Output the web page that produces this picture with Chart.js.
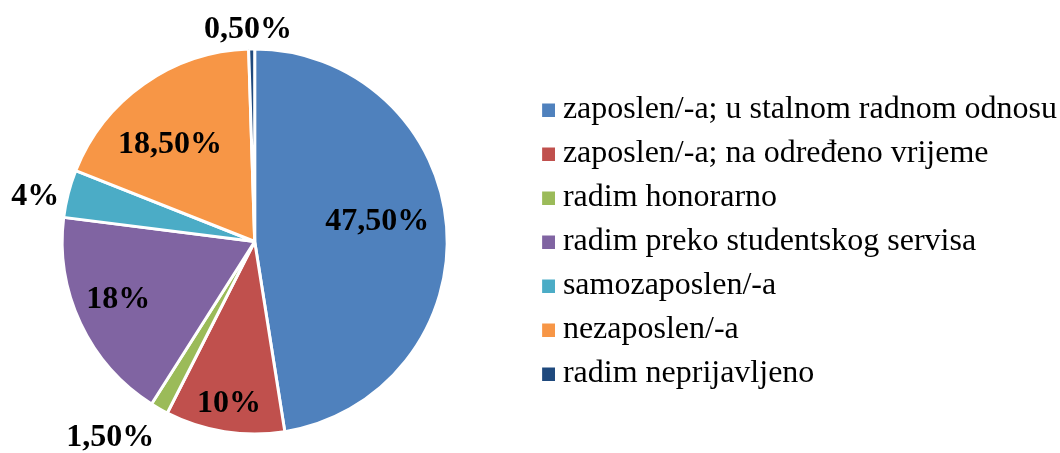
<!DOCTYPE html>
<html>
<head>
<meta charset="utf-8">
<script src="https://cdn.jsdelivr.net/npm/chart.js@4"></script>
<style>
html,body{margin:0;padding:0;background:#fff;}
#wrap{width:1060px;height:453px;}
</style>
</head>
<body>
<div id="wrap"><canvas id="c" width="1060" height="453"></canvas></div>
<script>
const categories = [
  "zaposlen/-a; u stalnom radnom odnosu",
  "zaposlen/-a; na određeno vrijeme",
  "radim honorarno",
  "radim preko studentskog servisa",
  "samozaposlen/-a",
  "nezaposlen/-a",
  "radim neprijavljeno"
];
const values = [47.5, 10, 1.5, 18, 4, 18.5, 0.5];
const valueLabels = ["47,50%", "10%", "1,50%", "18%", "4%", "18,50%", "0,50%"];
const colors = ["#4F81BD", "#C0504D", "#9BBB59", "#8064A2", "#4BACC6", "#F79646", "#1F497D"];
// label placement: radius factor and angle offset in degrees
const labelRadius = [0.644, 0.852, 1.268, 0.771, 1.163, 0.667, 1.099];
const labelAngleShift = [-4.5, 0, 6.6, 2, -2.9, -6.1, -0.9];

const serif = "'Times New Roman', 'Liberation Serif', serif";

// legend marker: small square drawn on the right side of a wider transparent image
function makeMarker(color) {
  const c = document.createElement('canvas');
  c.width = 42; c.height = 14;
  const g = c.getContext('2d');
  g.fillStyle = color;
  g.fillRect(29, 1, 13, 13);
  return c;
}

const labelPlugin = {
  id: 'valueLabels',
  afterDatasetsDraw(chart) {
    const ctx = chart.ctx;
    const meta = chart.getDatasetMeta(0);
    ctx.save();
    ctx.font = "bold 32px " + serif;
    ctx.fillStyle = "#000";
    ctx.textAlign = "center";
    ctx.textBaseline = "middle";
    meta.data.forEach((arc, i) => {
      const p = arc.getProps(['x','y','startAngle','endAngle','outerRadius']);
      const mid = (p.startAngle + p.endAngle) / 2 + labelAngleShift[i] * Math.PI / 180;
      const r = p.outerRadius * labelRadius[i];
      ctx.fillText(valueLabels[i], p.x + Math.cos(mid) * r, p.y + Math.sin(mid) * r);
    });
    ctx.restore();
  }
};

new Chart(document.getElementById('c'), {
  type: 'pie',
  data: {
    labels: categories,
    datasets: [{
      data: values,
      backgroundColor: colors,
      borderColor: "#ffffff",
      borderWidth: 3,
      hoverOffset: 0
    }]
  },
  options: {
    responsive: false,
    animation: false,
    radius: 192.5,
    layout: { padding: { left: 0, right: -7, top: 30, bottom: 0 } },
    plugins: {
      tooltip: { enabled: false },
      legend: {
        position: 'right',
        align: 'center',
        maxWidth: 600,
        labels: {
          usePointStyle: true,
          boxWidth: 25.5,
          boxHeight: 13,
          padding: 12,
          color: "#000",
          font: { family: serif, size: 32 },
          generateLabels(chart) {
            const ds = chart.data.datasets[0];
            return chart.data.labels.map((text, i) => ({
              text,
              fillStyle: ds.backgroundColor[i],
              strokeStyle: ds.backgroundColor[i],
              lineWidth: 0,
              fontColor: "#000",
              pointStyle: makeMarker(ds.backgroundColor[i]),
              hidden: false,
              index: i
            }));
          }
        }
      }
    }
  },
  plugins: [labelPlugin]
});
</script>
</body>
</html>
